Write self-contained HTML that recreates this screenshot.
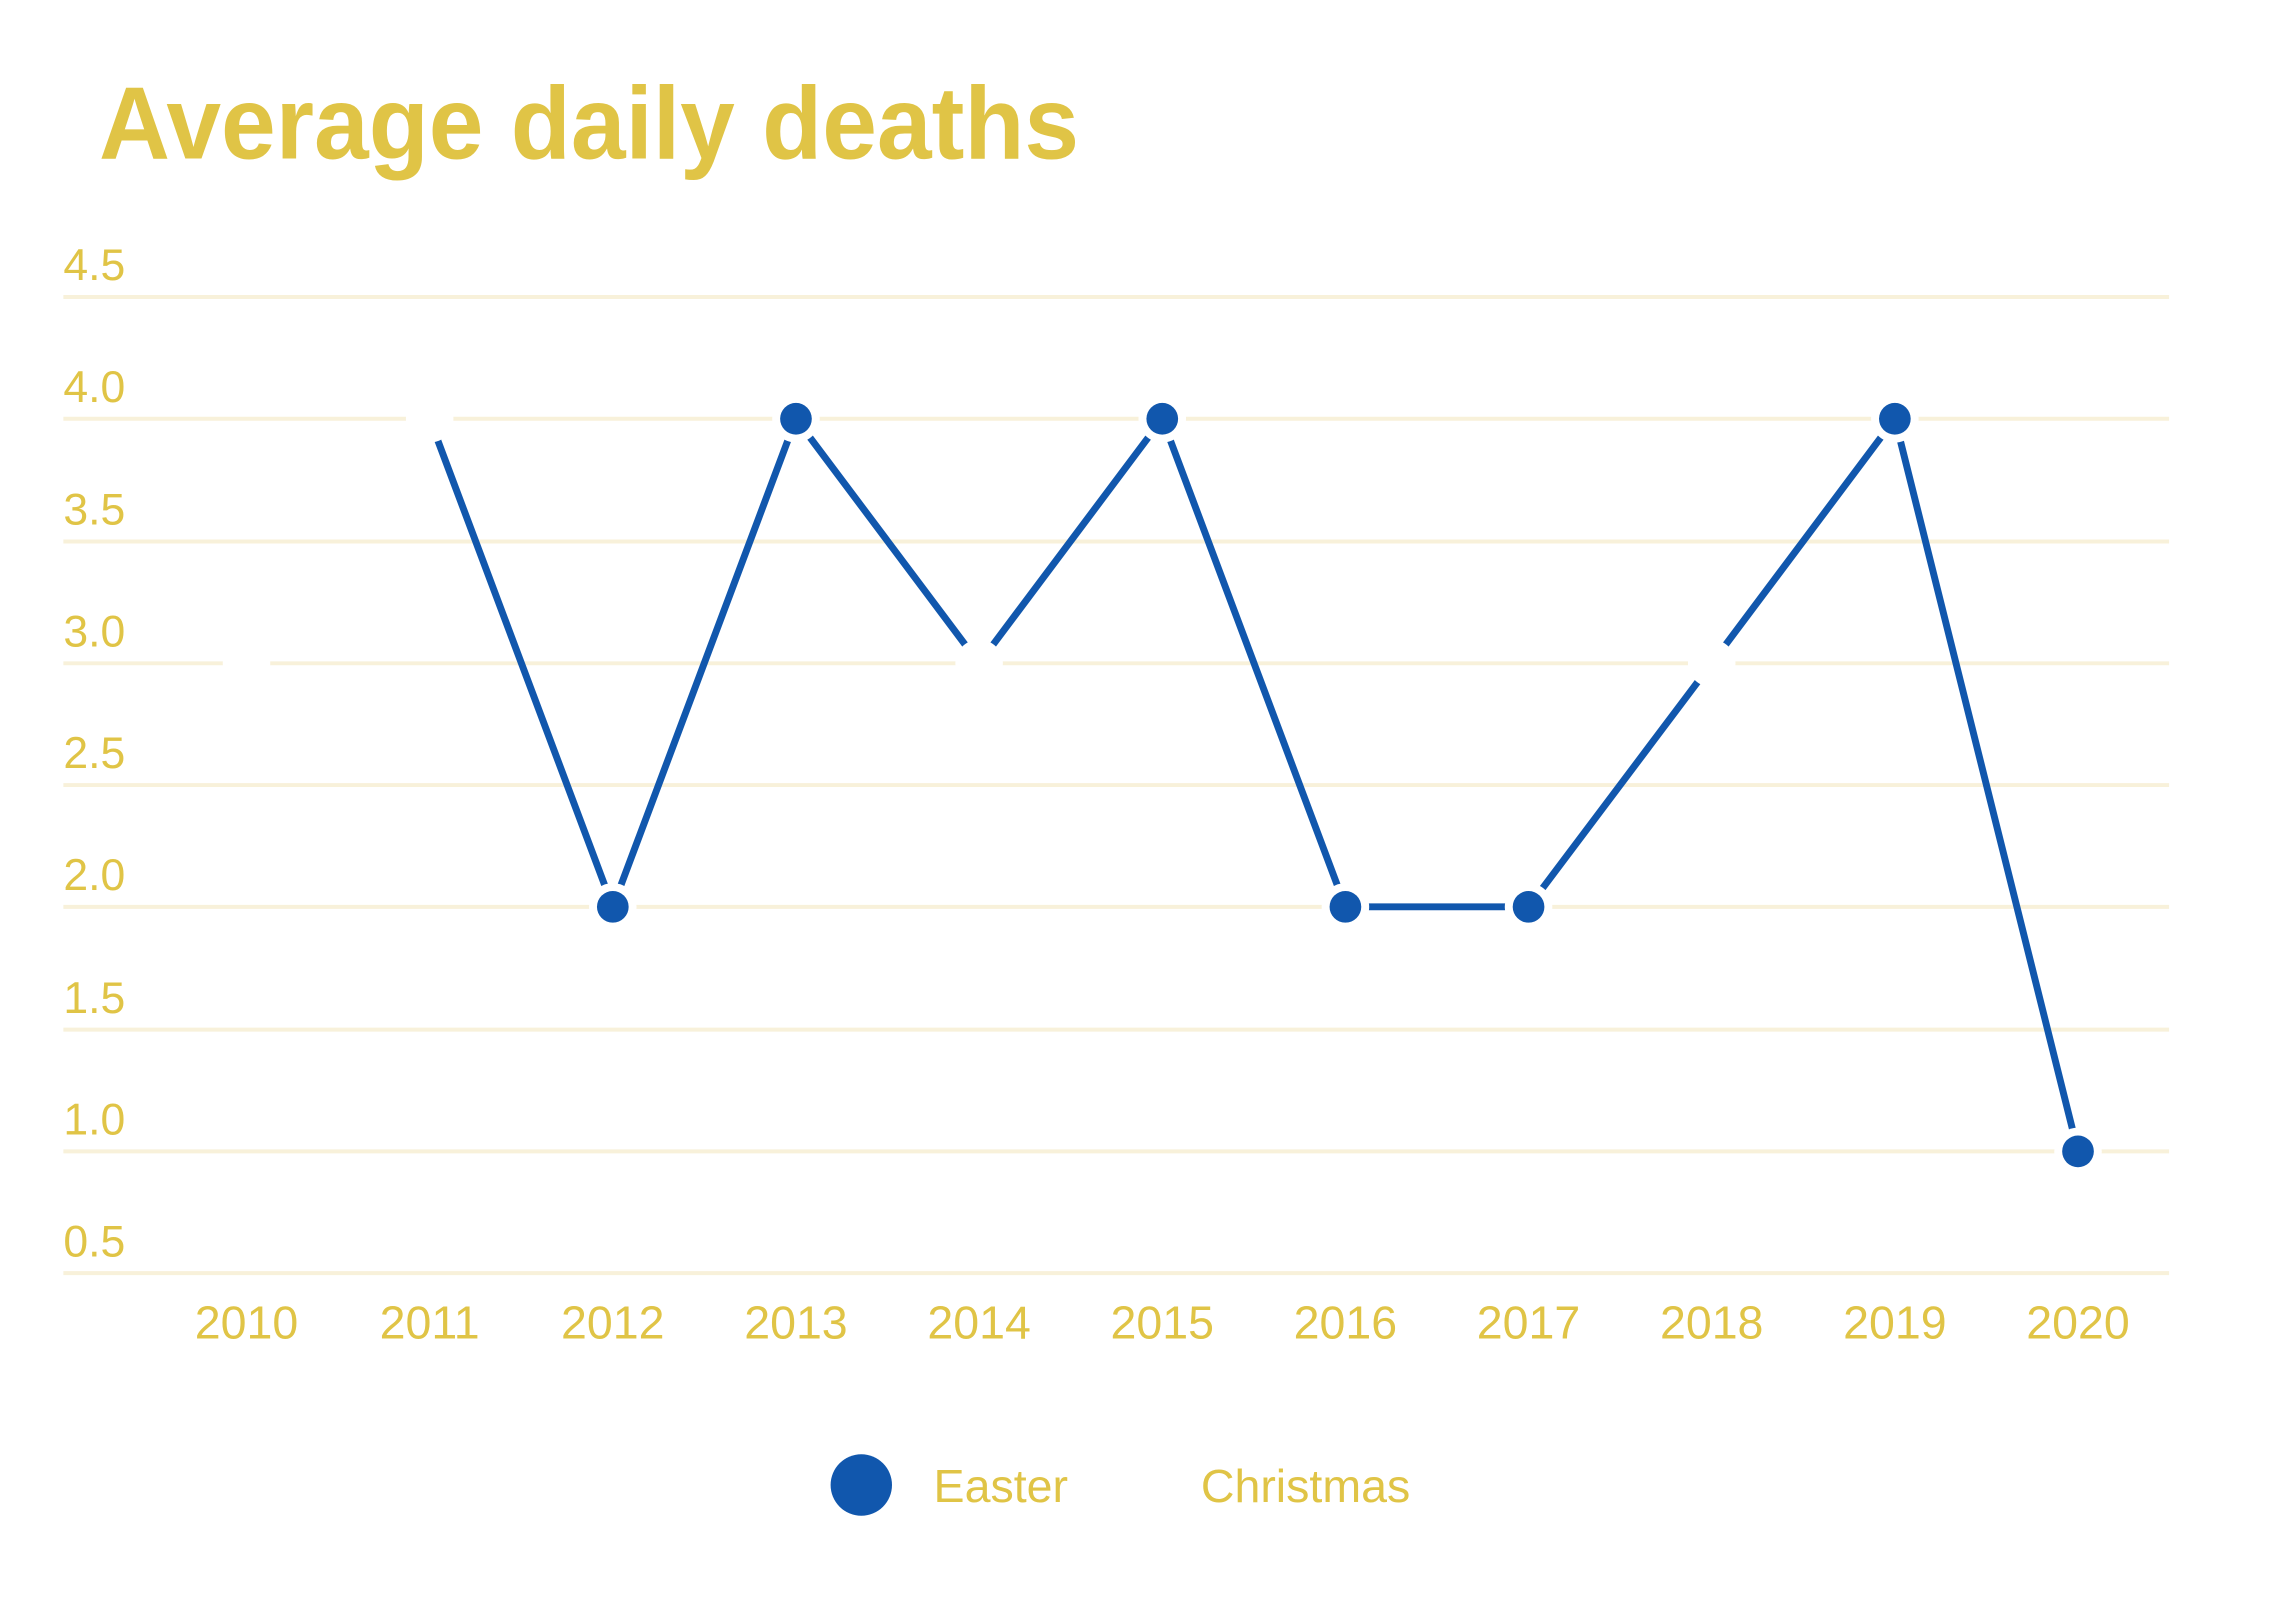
<!DOCTYPE html>
<html><head><meta charset="utf-8"><style>
html,body{margin:0;padding:0;background:#fff;}
svg{display:block;}
text{font-family:"Liberation Sans",sans-serif;fill:#e0c446;}
</style></head><body>
<svg width="2276" height="1600" viewBox="0 0 2276 1600" xmlns="http://www.w3.org/2000/svg">
<g transform="scale(0.99)">
<text x="100" y="160" font-size="104" font-weight="bold" textLength="990" lengthAdjust="spacingAndGlyphs">Average daily deaths</text>
<g stroke="#f8f1da" stroke-width="4">
<line x1="64" x2="2191" y1="300" y2="300"/>
<line x1="64" x2="2191" y1="423" y2="423"/>
<line x1="64" x2="2191" y1="547" y2="547"/>
<line x1="64" x2="2191" y1="670" y2="670"/>
<line x1="64" x2="2191" y1="793" y2="793"/>
<line x1="64" x2="2191" y1="916" y2="916"/>
<line x1="64" x2="2191" y1="1040" y2="1040"/>
<line x1="64" x2="2191" y1="1163" y2="1163"/>
<line x1="64" x2="2191" y1="1286" y2="1286"/>
</g>
<g font-size="45">
<text x="64" y="283">4.5</text>
<text x="64" y="406">4.0</text>
<text x="64" y="530">3.5</text>
<text x="64" y="653">3.0</text>
<text x="64" y="776">2.5</text>
<text x="64" y="899">2.0</text>
<text x="64" y="1023">1.5</text>
<text x="64" y="1146">1.0</text>
<text x="64" y="1269">0.5</text>
</g>
<g font-size="47" text-anchor="middle">
<text x="249" y="1352">2010</text>
<text x="434" y="1352">2011</text>
<text x="619" y="1352">2012</text>
<text x="804" y="1352">2013</text>
<text x="989" y="1352">2014</text>
<text x="1174" y="1352">2015</text>
<text x="1359" y="1352">2016</text>
<text x="1544" y="1352">2017</text>
<text x="1729" y="1352">2018</text>
<text x="1914" y="1352">2019</text>
<text x="2099" y="1352">2020</text>
</g>
<polyline fill="none" stroke="#1157ad" stroke-width="7" points="434,423 619,916 804,423 989,670 1174,423 1359,916 1544,916 1729,670 1914,423 2099,1163"/>
<g fill="#fff">
<circle cx="249" cy="670" r="24"/>
<circle cx="434" cy="423" r="24"/>
<circle cx="619" cy="916" r="24"/>
<circle cx="804" cy="423" r="24"/>
<circle cx="989" cy="670" r="24"/>
<circle cx="1174" cy="423" r="24"/>
<circle cx="1359" cy="916" r="24"/>
<circle cx="1544" cy="916" r="24"/>
<circle cx="1729" cy="670" r="24"/>
<circle cx="1914" cy="423" r="24"/>
<circle cx="2099" cy="1163" r="24"/>
</g>
<g fill="#1157ad">
<circle cx="619" cy="916" r="16"/>
<circle cx="804" cy="423" r="16"/>
<circle cx="1174" cy="423" r="16"/>
<circle cx="1359" cy="916" r="16"/>
<circle cx="1544" cy="916" r="16"/>
<circle cx="1914" cy="423" r="16"/>
<circle cx="2099" cy="1163" r="16"/>
</g>
<circle cx="870" cy="1500" r="31" fill="#1157ad"/>
<text x="943" y="1517" font-size="47">Easter</text>
<text x="1213" y="1517" font-size="47">Christmas</text>
</g>
</svg>
</body></html>
